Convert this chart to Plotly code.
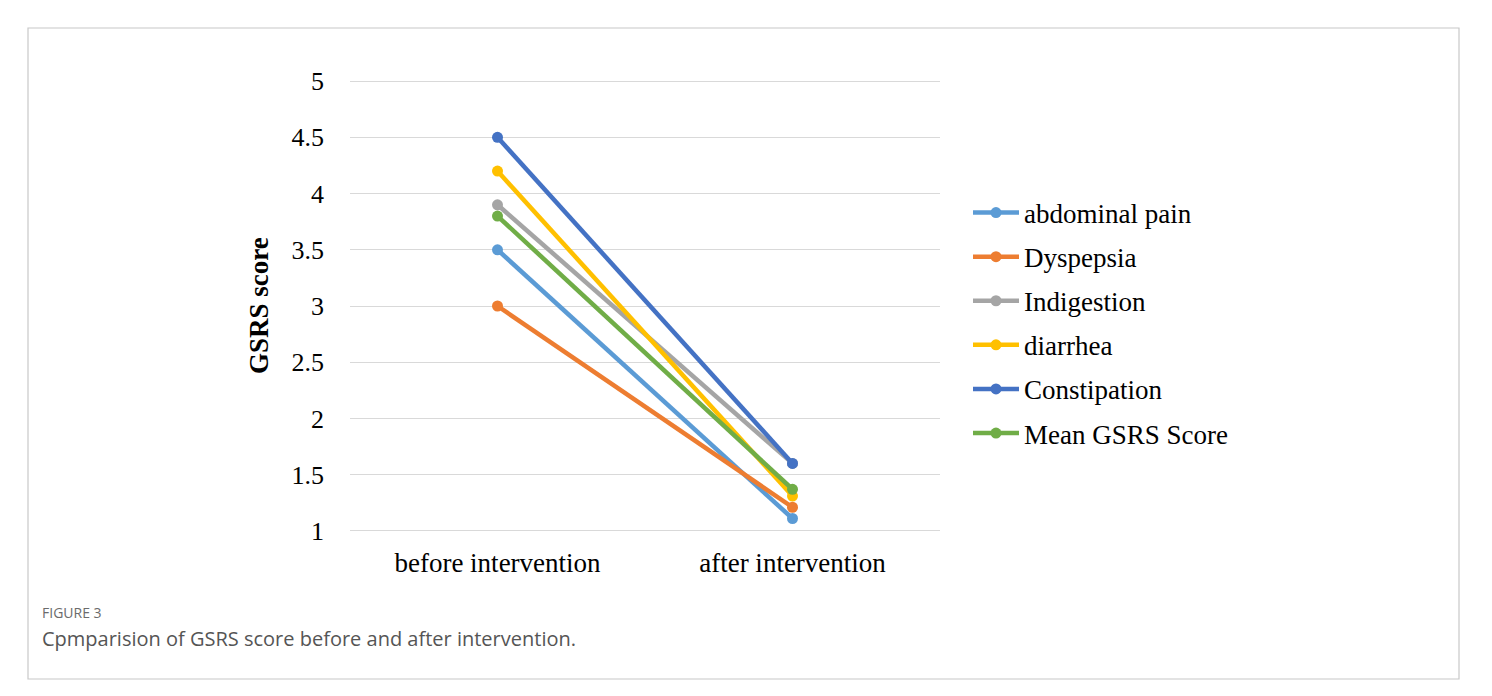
import plotly.graph_objects as go

categories = ["before intervention", "after intervention"]
series_names = ["abdominal pain", "Dyspepsia", "Indigestion", "diarrhea", "Constipation", "Mean GSRS Score"]
abdominal_pain = [3.5, 1.11]
dyspepsia = [3.0, 1.21]
indigestion = [3.9, 1.6]
diarrhea = [4.2, 1.31]
constipation = [4.5, 1.6]
mean_gsrs = [3.8, 1.37]
series_values = [abdominal_pain, dyspepsia, indigestion, diarrhea, constipation, mean_gsrs]
colors = ["#5B9BD5", "#ED7D31", "#A5A5A5", "#FFC000", "#4472C4", "#70AD47"]
y_ticks = [1, 1.5, 2, 2.5, 3, 3.5, 4, 4.5, 5]
y_tick_labels = ["1", "1.5", "2", "2.5", "3", "3.5", "4", "4.5", "5"]

OFF = 8  # page body margin
W, H = 1492 - 2 * OFF, 696 - 2 * OFF
L, R, T, B = 350 - OFF, 940 - OFF, 80 - OFF, 532 - OFF

fig = go.Figure()
for name, vals, c in zip(series_names, series_values, colors):
    fig.add_trace(go.Scatter(
        x=categories, y=vals, name=name, mode="lines+markers",
        line=dict(color=c, width=4.5), marker=dict(color=c, size=11),
        legendgroup=name,
    ))

serif = "Liberation Serif, Times New Roman, serif"

def px_x(px):
    return (px - OFF - L) / (R - L)

def px_y(py):
    return (B - (py - OFF)) / (B - T)

fig.update_layout(
    width=W, height=H,
    margin=dict(l=L, r=W - R, t=T, b=H - B, pad=0),
    paper_bgcolor="white", plot_bgcolor="white",
    font=dict(family=serif, size=22, color="black"),
    showlegend=True,
    legend=dict(x=px_x(968), y=px_y(323), xanchor="left", yanchor="middle",
                font=dict(family=serif, size=27, color="black"),
                tracegroupgap=6, itemwidth=46, bgcolor="rgba(0,0,0,0)"),
    xaxis=dict(type="category", range=[-0.5, 1.5], showgrid=False, zeroline=False,
               showline=False, ticks="", tickfont=dict(family=serif, size=27, color="black"),
               ticklabelstandoff=12, fixedrange=True),
    yaxis=dict(range=[0.99, 5.01], tickvals=y_ticks, ticktext=y_tick_labels,
               showgrid=True, gridcolor="#D9D9D9", gridwidth=1.3, zeroline=False,
               showline=False, ticks="", tickfont=dict(family=serif, size=26, color="black"),
               ticklabelstandoff=25, fixedrange=True),
    annotations=[
        dict(text="<b>GSRS score</b>", x=px_x(259), y=px_y(306), xref="paper", yref="paper",
             textangle=-90, showarrow=False, font=dict(family=serif, size=27, color="black"),
             xanchor="center", yanchor="middle"),
        dict(text="FIGURE 3", x=px_x(40), y=px_y(612), xref="paper", yref="paper",
             showarrow=False, font=dict(family="Open Sans, sans-serif", size=14, color="#6b6b6b"),
             xanchor="left", yanchor="middle"),
        dict(text="Cpmparision of GSRS score before and after intervention.", x=px_x(40), y=px_y(638),
             xref="paper", yref="paper", showarrow=False,
             font=dict(family="Open Sans, sans-serif", size=20, color="#555555"),
             xanchor="left", yanchor="middle"),
    ],
    shapes=[
        dict(type="rect", xref="paper", yref="paper",
             x0=px_x(28), x1=px_x(1459), y0=px_y(679), y1=px_y(28),
             line=dict(color="#C8C8C8", width=1.2), fillcolor="rgba(0,0,0,0)", layer="below"),
    ],
)

fig.write_html("out.html")
